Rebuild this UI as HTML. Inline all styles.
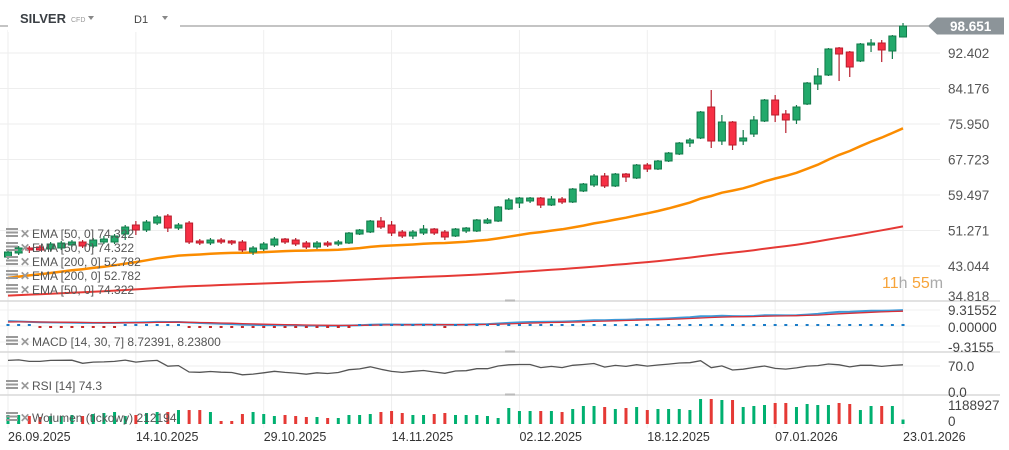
<!DOCTYPE html>
<html><head><meta charset="utf-8"><style>
html,body{margin:0;padding:0;background:#fff;}
svg{display:block;font-family:"Liberation Sans",sans-serif;}
</style></head><body>
<svg id="chart" width="1009" height="450" viewBox="0 0 1009 450" xmlns="http://www.w3.org/2000/svg">
<g id="grid"></g>
<g id="panels"></g>
<g id="marks"></g>
<g id="labels"></g>
</svg>
<script>
const openP=[45.13,46.06,47.22,47.45,46.99,47.22,47.91,48.61,47.68,48.61,48.61,50.46,52.55,51.39,53.01,54.63,51.85,53.01,48.84,48.38,49.07,48.84,48.61,46.29,46.99,47.91,49.30,49.07,48.38,47.45,48.38,48.15,48.38,50.46,50.93,53.47,52.55,50.93,50.00,50.69,51.62,50.93,50.00,51.16,51.16,53.01,53.47,56.25,57.65,58.11,58.80,57.18,58.57,57.88,60.43,61.82,63.90,61.59,64.36,63.44,66.45,65.52,67.38,69.00,71.55,72.71,79.89,72.01,76.41,72.01,73.63,76.64,81.51,78.27,76.88,80.58,85.22,87.30,93.56,92.63,90.55,94.25,94.72,92.86,96.11];
const closeP=[46.29,47.22,46.75,46.75,48.15,48.38,48.61,47.68,49.07,49.30,50.00,52.08,51.39,53.24,54.40,51.85,52.55,48.61,48.38,49.07,48.61,48.38,46.75,47.22,48.15,49.30,48.61,48.15,47.45,48.38,47.91,48.61,50.69,51.39,53.47,52.08,50.69,50.00,50.93,51.62,50.69,49.77,51.62,51.85,53.71,53.71,56.72,58.34,58.80,58.80,57.18,58.57,57.88,60.89,62.05,63.90,61.59,64.36,63.67,66.45,65.52,67.38,69.23,71.55,72.24,78.73,72.01,76.41,71.08,72.71,76.88,81.51,78.04,76.88,79.89,85.45,87.07,93.33,92.17,89.16,94.49,94.72,93.10,96.34,98.65];
const highP=[46.75,47.68,47.68,47.91,48.61,48.84,49.07,49.07,49.54,50.00,50.46,52.55,53.47,53.71,54.86,55.10,53.01,53.47,49.30,49.54,49.54,49.07,49.07,47.68,48.61,49.77,49.54,49.54,48.84,48.84,48.84,49.07,50.93,51.62,53.71,54.40,53.47,51.39,51.39,52.55,51.85,51.39,51.85,52.08,53.94,54.17,56.95,58.80,59.04,59.04,59.04,59.27,59.04,61.12,62.28,64.36,64.60,64.60,64.60,66.68,66.91,67.61,69.46,71.78,72.71,78.96,83.83,78.04,76.64,74.56,77.80,81.74,82.67,79.19,80.35,85.68,88.92,93.56,93.79,92.86,94.72,95.64,95.41,96.57,99.35];
const lowP=[44.67,45.60,46.06,46.52,46.52,46.75,47.45,47.22,47.22,48.15,48.15,49.07,50.23,50.93,52.55,50.93,51.39,48.15,47.91,47.91,48.15,47.91,46.29,45.60,46.52,47.45,48.15,47.68,46.99,46.99,47.45,47.68,48.15,50.23,50.69,51.62,50.00,49.54,49.30,50.23,50.23,49.07,49.77,50.69,50.93,52.78,53.24,56.02,56.49,57.65,56.49,56.95,57.41,57.65,60.19,61.35,61.12,61.35,62.51,63.21,64.83,65.29,67.15,68.77,70.62,72.47,70.39,71.08,69.93,71.08,72.94,76.41,76.41,73.86,75.95,80.35,83.83,87.07,85.91,86.84,90.31,92.63,90.31,91.01,96.11];
const volumeK=[428,428,380,333,380,380,428,380,475,523,570,380,428,523,570,570,665,665,665,570,143,143,475,570,475,380,428,380,333,333,285,285,428,428,475,570,618,523,428,428,475,523,428,428,428,380,285,761,618,618,618,618,570,713,856,856,808,713,761,808,665,713,713,713,665,1189,1189,1141,1141,808,856,903,999,999,808,951,903,903,999,951,665,856,856,856,212];
const priceTicks=[92.402,84.176,75.950,67.723,59.497,51.271,43.044,34.818];
const dateLabels=["26.09.2025","14.10.2025","29.10.2025","14.11.2025","02.12.2025","18.12.2025","07.01.2026","23.01.2026"];
const dateIdx=[0,12,24,36,48,60,72,84];
const lastPrice="98.651";

const NS="http://www.w3.org/2000/svg";
function mk(tag,attrs,parent,text){const e=document.createElementNS(NS,tag);for(const k in attrs)e.setAttribute(k,attrs[k]);if(text!==undefined)e.textContent=text;parent.appendChild(e);return e;}
const G=document.getElementById('grid'),P=document.getElementById('panels'),M=document.getElementById('marks'),L=document.getElementById('labels');
const xOf=i=>8+i*10.655;
const yP=p=>53+(92.402-p)*4.316;
const yMacd=v=>326-v*1.83;
const yRsi=v=>393-v*0.386;
const yVol=k=>424-k/1188.927*25;

priceTicks.forEach((t,i)=>{if(i<7){const l=mk('line',{x1:0,x2:940,y1:yP(t),y2:yP(t),stroke:'#eeeeee','stroke-width':1},G);

}
const tx=mk('text',{x:948,y:(i<7?yP(t)+5:yP(t)-0.5),'font-size':13.5,fill:'#555'},L,t.toFixed(3));

});
[310,326,342].forEach(y=>{mk('line',{x1:0,x2:940,y1:y,y2:y,stroke:'#f2f2f2'},G);});
mk('line',{x1:0,x2:940,y1:366,y2:366,stroke:'#eeeeee'},G);
dateIdx.forEach((d,i)=>{const x=xOf(d);const l=mk('line',{x1:x,x2:x,y1:30,y2:428,stroke:'#eeeeee'},G);


const tx=mk('text',{x:x,y:441,'font-size':12.5,fill:'#333'},L,dateLabels[i]);

});

[301,352,395].forEach(y=>{const l=mk('line',{x1:0,x2:1000,y1:y,y2:y,stroke:'#d8d8d8','stroke-width':1.5},P);


mk('rect',{x:505,y:y-1.5,width:10,height:2,fill:'#bbb'},P);});

mk('line',{x1:0,x2:935,y1:yP(98.651),y2:yP(98.651),stroke:'#888',"stroke-width":1},M);

function ema(arr,n,seed){const k=2/(n+1);let v=seed;return arr.map(c=>{v=c*k+v*(1-k);return v;});}
const ema50=ema(closeP,44,40.0), ema200=ema(closeP,200,36.1);
function pathOf(vals,yf){return vals.map((v,i)=>(i?'L':'M')+xOf(i).toFixed(1)+','+yf(v).toFixed(1)).join('');}
const e2=mk('path',{d:pathOf(ema200,yP),fill:'none',stroke:'#e53935','stroke-width':2},M);


const e5=mk('path',{d:pathOf(ema50,yP),fill:'none',stroke:'#fb8c00','stroke-width':2.5},M);



closeP.forEach((c,i)=>{const o=openP[i],up=c>=o;const x=xOf(i);
const fill=up?'#22a96b':'#f72f44',st=up?'#127a4a':'#b81d2c';
const g=mk('g',{},M);


mk('line',{x1:x,x2:x,y1:yP(highP[i]),y2:yP(lowP[i]),stroke:st,'stroke-width':1.2},g);
const t=yP(Math.max(o,c)),b=yP(Math.min(o,c));
mk('rect',{x:x-3.5,y:t,width:7,height:Math.max(1.5,b-t),fill:fill,stroke:st,'stroke-width':1},g);});

const f=ema(closeP,14,48.0), s=ema(closeP,30,45.0);
const macd=f.map((v,i)=>v-s[i]);
const sig=ema(macd,7,2.0);
let area=macd.map((v,i)=>(i?'L':'M')+xOf(i).toFixed(1)+','+yMacd(v).toFixed(1)).join('');
for(let i=sig.length-1;i>=0;i--)area+='L'+xOf(i).toFixed(1)+','+yMacd(sig[i]).toFixed(1);
mk('path',{d:area+'Z',fill:'#a8cbe8','fill-opacity':0.8},M);
const ml=mk('path',{d:pathOf(macd,yMacd),fill:'none',stroke:'#3d9ad8','stroke-width':2},M);


const sl=mk('path',{d:pathOf(sig,yMacd),fill:'none',stroke:'#d8303a','stroke-width':1.3},M);


macd.forEach((v,i)=>{const h=v-sig[i];const hh=Math.max(2,Math.abs(h)*1.83);
const r=mk('rect',{x:xOf(i)-1.5,y:h>=0?326-hh:326,width:3,height:hh,fill:h>=0?'#1a7cc8':'#c62828'},M);

});

let ag=0.65,al=0.12;const rsi=closeP.map((c,i)=>{if(i>0){const d=c-closeP[i-1];ag=(ag*13+Math.max(d,0))/14;al=(al*13+Math.max(-d,0))/14;}return 100-100/(1+ag/al);});
const rl=mk('path',{d:pathOf(rsi,yRsi),fill:'none',stroke:'#555','stroke-width':1.3},M);



volumeK.forEach((v,i)=>{const up=closeP[i]>=openP[i];const y=yVol(v);
const r=mk('rect',{x:xOf(i)-1.5,y:y,width:3,height:424-y,fill:up?'#00b070':'#e53935'},M);

});

mk('rect',{x:8,y:0,width:172,height:32,fill:'#fff'},L);
const t1=mk('text',{x:20,y:23,'font-size':13,'font-weight':'bold',fill:'#3a3f44'},L,'SILVER');


mk('text',{x:71,y:22,'font-size':7,fill:'#999'},L,'CFD');
mk('path',{d:'M88,16 L94,16 L91,20 Z',fill:'#888'},L);
const t2=mk('text',{x:134,y:23,'font-size':11,fill:'#444'},L,'D1');


mk('path',{d:'M162,16 L168,16 L165,20 Z',fill:'#888'},L);

const yl=yP(98.651);
const tag=mk('path',{d:`M928,${yl} L937,${yl-8.5} L1004,${yl-8.5} L1004,${yl+8.5} L937,${yl+8.5} Z`,fill:'#8c9499'},L);


mk('text',{x:950,y:yl+5,'font-size':13.5,'font-weight':'bold',fill:'#fff'},L,lastPrice);

const cd=mk('text',{x:882,y:288,'font-size':16},L);


mk('tspan',{fill:'#f7a43a'},cd,'11');mk('tspan',{fill:'#aaa'},cd,'h ');mk('tspan',{fill:'#f7a43a'},cd,'55');mk('tspan',{fill:'#aaa'},cd,'m');

[['9.31552',315],['0.00000',332],['-9.3155',352],['70.0',371],['0.0',397],['1188927',410],['0',426]].forEach(a=>{const t=mk('text',{x:948,y:a[1],'font-size':13.5,fill:'#444'},L,a[0]);

});

function legend(y,txt,name){const g=mk('g',{},L);


mk('rect',{x:6,y:y-9,width:12,height:2,fill:'#999'},g);mk('rect',{x:6,y:y-5.5,width:12,height:2,fill:'#999'},g);mk('rect',{x:6,y:y-2,width:12,height:2,fill:'#999'},g);
mk('text',{x:20,y:y+1,'font-size':12,'font-weight':'bold',fill:'#999'},g,'✕');
mk('text',{x:32,y:y+1,'font-size':12,fill:'#555'},g,txt);}
legend(237,'EMA  [50,  0]  74.322','legend-ema50');
legend(251,'EMA  [50,  0]  74.322','legend-ema50-b');
legend(265,'EMA  [200,  0]  52.782','legend-ema200');
legend(279,'EMA  [200,  0]  52.782','legend-ema200-b');
legend(293,'EMA  [50,  0]  74.322','legend-ema50-c');
legend(345,'MACD  [14, 30, 7]  8.72391,   8.23800','legend-macd');
legend(389,'RSI  [14]  74.3','legend-rsi');
legend(421,'Wolumen  (tickowy)  212194','legend-volume');
</script>
</body></html>
